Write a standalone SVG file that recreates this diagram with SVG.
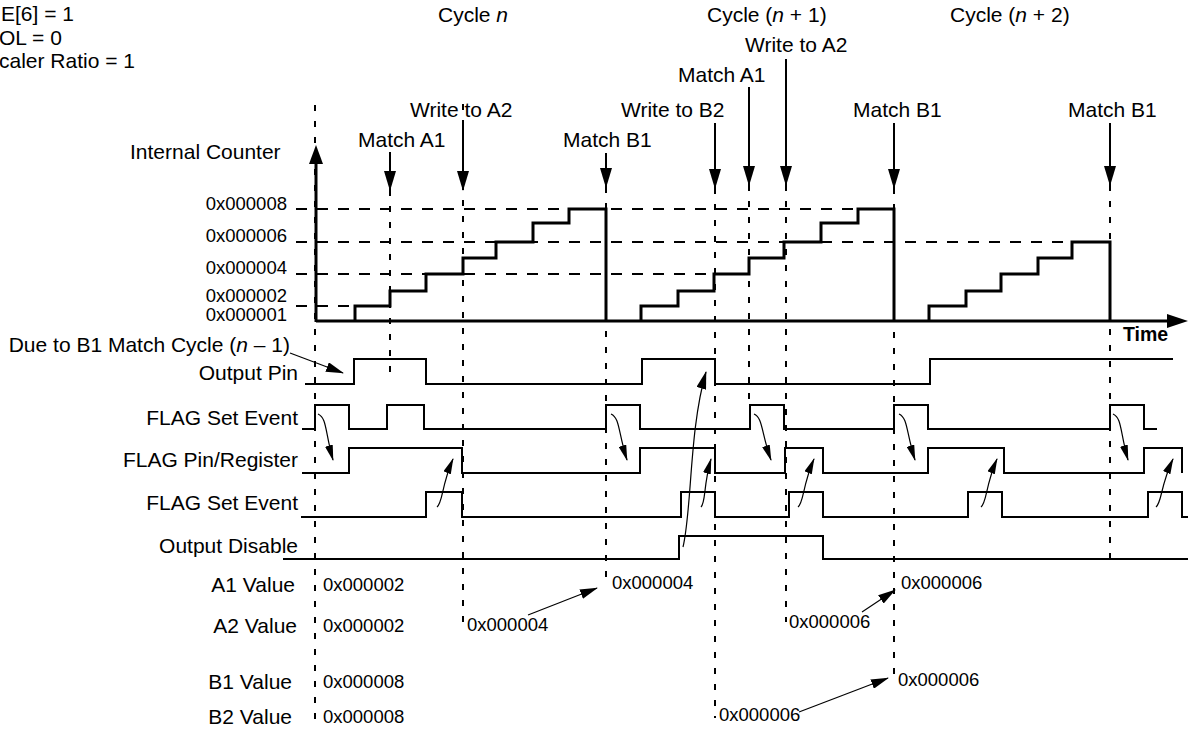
<svg xmlns="http://www.w3.org/2000/svg" width="1188" height="729" viewBox="0 0 1188 729">
<style>
text{font-family:"Liberation Sans",Arial,sans-serif;fill:#000}
.lb{font-size:21px}
.hx{font-size:18.5px}
.r{text-anchor:end}
.dv{stroke:#000;stroke-width:2;stroke-dasharray:6 10;fill:none}
.dh{stroke:#000;stroke-width:2;stroke-dasharray:11 10;fill:none}
.wv{stroke:#000;stroke-width:2;fill:none}
.rp{stroke:#000;stroke-width:3;fill:none}
.ar{stroke:#000;stroke-width:2;fill:none}
.th{stroke:#000;stroke-width:1.2;fill:none}
</style>
<defs>
<marker id="ah" viewBox="0 0 20 12" refX="19" refY="6" markerWidth="20" markerHeight="12" markerUnits="userSpaceOnUse" orient="auto"><path d="M0,0 L20,6 L0,12 z" fill="#000"/></marker>
<marker id="as" viewBox="0 0 18 10" refX="17" refY="5" markerWidth="18" markerHeight="10" markerUnits="userSpaceOnUse" orient="auto"><path d="M0,0 L18,5 L0,10 z" fill="#000"/></marker>
<marker id="ac" viewBox="0 0 16 8" refX="15" refY="4" markerWidth="16" markerHeight="8" markerUnits="userSpaceOnUse" orient="auto"><path d="M0,0 L16,4 L0,8 z" fill="#000"/></marker>
</defs>

<g id="settings">
<text class="lb" x="1" y="21">E[6] = 1</text>
<text class="lb" x="-1" y="45">OL = 0</text>
<text class="lb" x="-1" y="68">caler Ratio = 1</text>
</g>

<g id="cycles">
<text class="lb" x="438" y="22">Cycle <tspan font-style="italic">n</tspan></text>
<text class="lb" x="707" y="22">Cycle (<tspan font-style="italic">n</tspan> + 1)</text>
<text class="lb" x="950" y="22">Cycle (<tspan font-style="italic">n</tspan> + 2)</text>
</g>

<g id="grid">
<line class="dv" x1="315" y1="105" x2="315" y2="729"/>
<line class="dv" x1="390" y1="190" x2="390" y2="378"/>
<line class="dv" x1="463" y1="104" x2="463" y2="623"/>
<line class="dv" x1="606" y1="187" x2="606" y2="585"/>
<line class="dv" x1="715" y1="188" x2="715" y2="718"/>
<line class="dv" x1="749" y1="185" x2="749" y2="405"/>
<line class="dv" x1="786" y1="185" x2="786" y2="622"/>
<line class="dv" x1="894" y1="188" x2="894" y2="680"/>
<line class="dv" x1="1110" y1="185" x2="1110" y2="565"/>
<line class="dh" x1="296" y1="209" x2="858" y2="209"/>
<line class="dh" x1="296" y1="242" x2="1072" y2="242"/>
<line class="dh" x1="296" y1="274" x2="714" y2="274"/>
<line class="dh" x1="296" y1="306" x2="355" y2="306"/>
</g>

<g id="events">
<text class="lb" x="410" y="117">Write to A2</text>
<text class="lb" x="358" y="147">Match A1</text>
<text class="lb" x="563" y="147">Match B1</text>
<text class="lb" x="621" y="117">Write to B2</text>
<text class="lb" x="678" y="82">Match A1</text>
<text class="lb" x="745" y="52">Write to A2</text>
<text class="lb" x="853" y="117">Match B1</text>
<text class="lb" x="1068" y="117">Match B1</text>
</g>

<g id="counter">
<text class="lb" x="130" y="159">Internal Counter</text>
<text class="hx r" x="287" y="210">0x000008</text>
<text class="hx r" x="287" y="242">0x000006</text>
<text class="hx r" x="287" y="274">0x000004</text>
<text class="hx r" x="287" y="302">0x000002</text>
<text class="hx r" x="287" y="321">0x000001</text>
<line class="rp" x1="316" y1="322" x2="316" y2="160"/>
<polygon points="316,145 309,164 323,164" fill="#000"/>
<line class="rp" x1="316" y1="321" x2="1172" y2="321"/>
<polygon points="1188,321 1167,314 1167,328" fill="#000"/>
<text x="1123" y="341" font-size="19.5" font-weight="bold">Time</text>
<path class="rp" d="M355,321 V306 H390 V291 H426 V274 H463 V258 H496 V242 H533 V223 H569 V209 H606 V321"/>
<path class="rp" d="M641,321 V306 H678 V291 H714 V274 H749 V258 H784 V242 H821 V223 H858 V209 H894 V321"/>
<path class="rp" d="M929,321 V306 H966 V291 H1001 V274 H1038 V258 H1072 V242 H1110 V321"/>
</g>

<g id="signals">
<text class="lb r" x="290" y="352">Due to B1 Match Cycle (<tspan font-style="italic">n</tspan> – 1)</text>
<text class="lb r" x="298" y="380">Output Pin</text>
<text class="lb r" x="298" y="425">FLAG Set Event</text>
<text class="lb r" x="298" y="467">FLAG Pin/Register</text>
<text class="lb r" x="298" y="510">FLAG Set Event</text>
<text class="lb r" x="298" y="553">Output Disable</text>
<path class="wv" d="M305,384 H354 V359 H426 V384 H642 V359 H715 V384 H930 V359 H1173"/>
<path class="wv" d="M302,429 H315 V405 H349 V429 H387 V405 H424 V429 H606 V405 H640 V429 H750 V405 H784 V429 H894 V405 H928 V429 H1110 V405 H1144 V429 H1157"/>
<path class="wv" d="M302,473 H349 V448 H462 V473 H640 V448 H715 V473 H785 V448 H823 V473 H928 V448 H1004 V473 H1144 V448 H1182 V473"/>
<path class="wv" d="M301,517 H426 V492 H462 V517 H681 V492 H715 V517 H789 V492 H823 V517 H968 V492 H1002 V517 H1148 V492 H1182 V517 H1188"/>
<path class="wv" d="M283,559 H679 V536 H823 V559 H1188"/>
</g>

<g id="values">
<text class="lb r" x="295" y="592">A1 Value</text>
<text class="lb r" x="297" y="633">A2 Value</text>
<text class="lb r" x="292" y="689">B1 Value</text>
<text class="lb r" x="292" y="724">B2 Value</text>
<text class="hx" x="323" y="591">0x000002</text>
<text class="hx" x="612" y="589">0x000004</text>
<text class="hx" x="901" y="589">0x000006</text>
<text class="hx" x="323" y="632">0x000002</text>
<text class="hx" x="467" y="631">0x000004</text>
<text class="hx" x="789" y="628">0x000006</text>
<text class="hx" x="323" y="688">0x000008</text>
<text class="hx" x="898" y="686">0x000006</text>
<text class="hx" x="323" y="723">0x000008</text>
<text class="hx" x="719" y="721">0x000006</text>
</g>

<g id="connectors">
<line class="ar" x1="390" y1="152" x2="390" y2="190" marker-end="url(#ah)"/>
<line class="ar" x1="463" y1="120" x2="463" y2="190" marker-end="url(#ah)"/>
<line class="ar" x1="606" y1="153" x2="606" y2="187" marker-end="url(#ah)"/>
<line class="ar" x1="715" y1="123" x2="715" y2="188" marker-end="url(#ah)"/>
<line class="ar" x1="749" y1="87" x2="749" y2="185" marker-end="url(#ah)"/>
<line class="ar" x1="786" y1="59" x2="786" y2="185" marker-end="url(#ah)"/>
<line class="ar" x1="894" y1="123" x2="894" y2="188" marker-end="url(#ah)"/>
<line class="ar" x1="1110" y1="123" x2="1110" y2="185" marker-end="url(#ah)"/>
<line class="th" x1="290" y1="353" x2="343" y2="373" marker-end="url(#as)"/>
<path class="th" d="M318,414 c9,4 7,18 15,46" marker-end="url(#ac)"/>
<path class="th" d="M611,414 c9,4 7,18 16,46" marker-end="url(#ac)"/>
<path class="th" d="M754,414 c9,4 7,18 17,46" marker-end="url(#ac)"/>
<path class="th" d="M899,414 c9,4 7,18 16,46" marker-end="url(#ac)"/>
<path class="th" d="M1113,414 c9,4 7,18 15,46" marker-end="url(#ac)"/>
<path class="th" d="M437,507 c6,-5 4,-20 16,-48" marker-end="url(#ac)"/>
<path class="th" d="M701,507 c5,-5 2,-20 10,-48" marker-end="url(#ac)"/>
<path class="th" d="M798,507 c6,-5 4,-20 16,-48" marker-end="url(#ac)"/>
<path class="th" d="M981,507 c6,-5 4,-20 16,-48" marker-end="url(#ac)"/>
<path class="th" d="M1156,507 c6,-5 4,-20 17,-48" marker-end="url(#ac)"/>
<path class="th" d="M683,547 C692,510 689,430 706,372" marker-end="url(#as)"/>
<line class="th" x1="528" y1="615" x2="597" y2="588" marker-end="url(#as)"/>
<line class="th" x1="862" y1="612" x2="895" y2="590" marker-end="url(#as)"/>
<line class="th" x1="799" y1="712" x2="888" y2="678" marker-end="url(#as)"/>
</g>
</svg>
